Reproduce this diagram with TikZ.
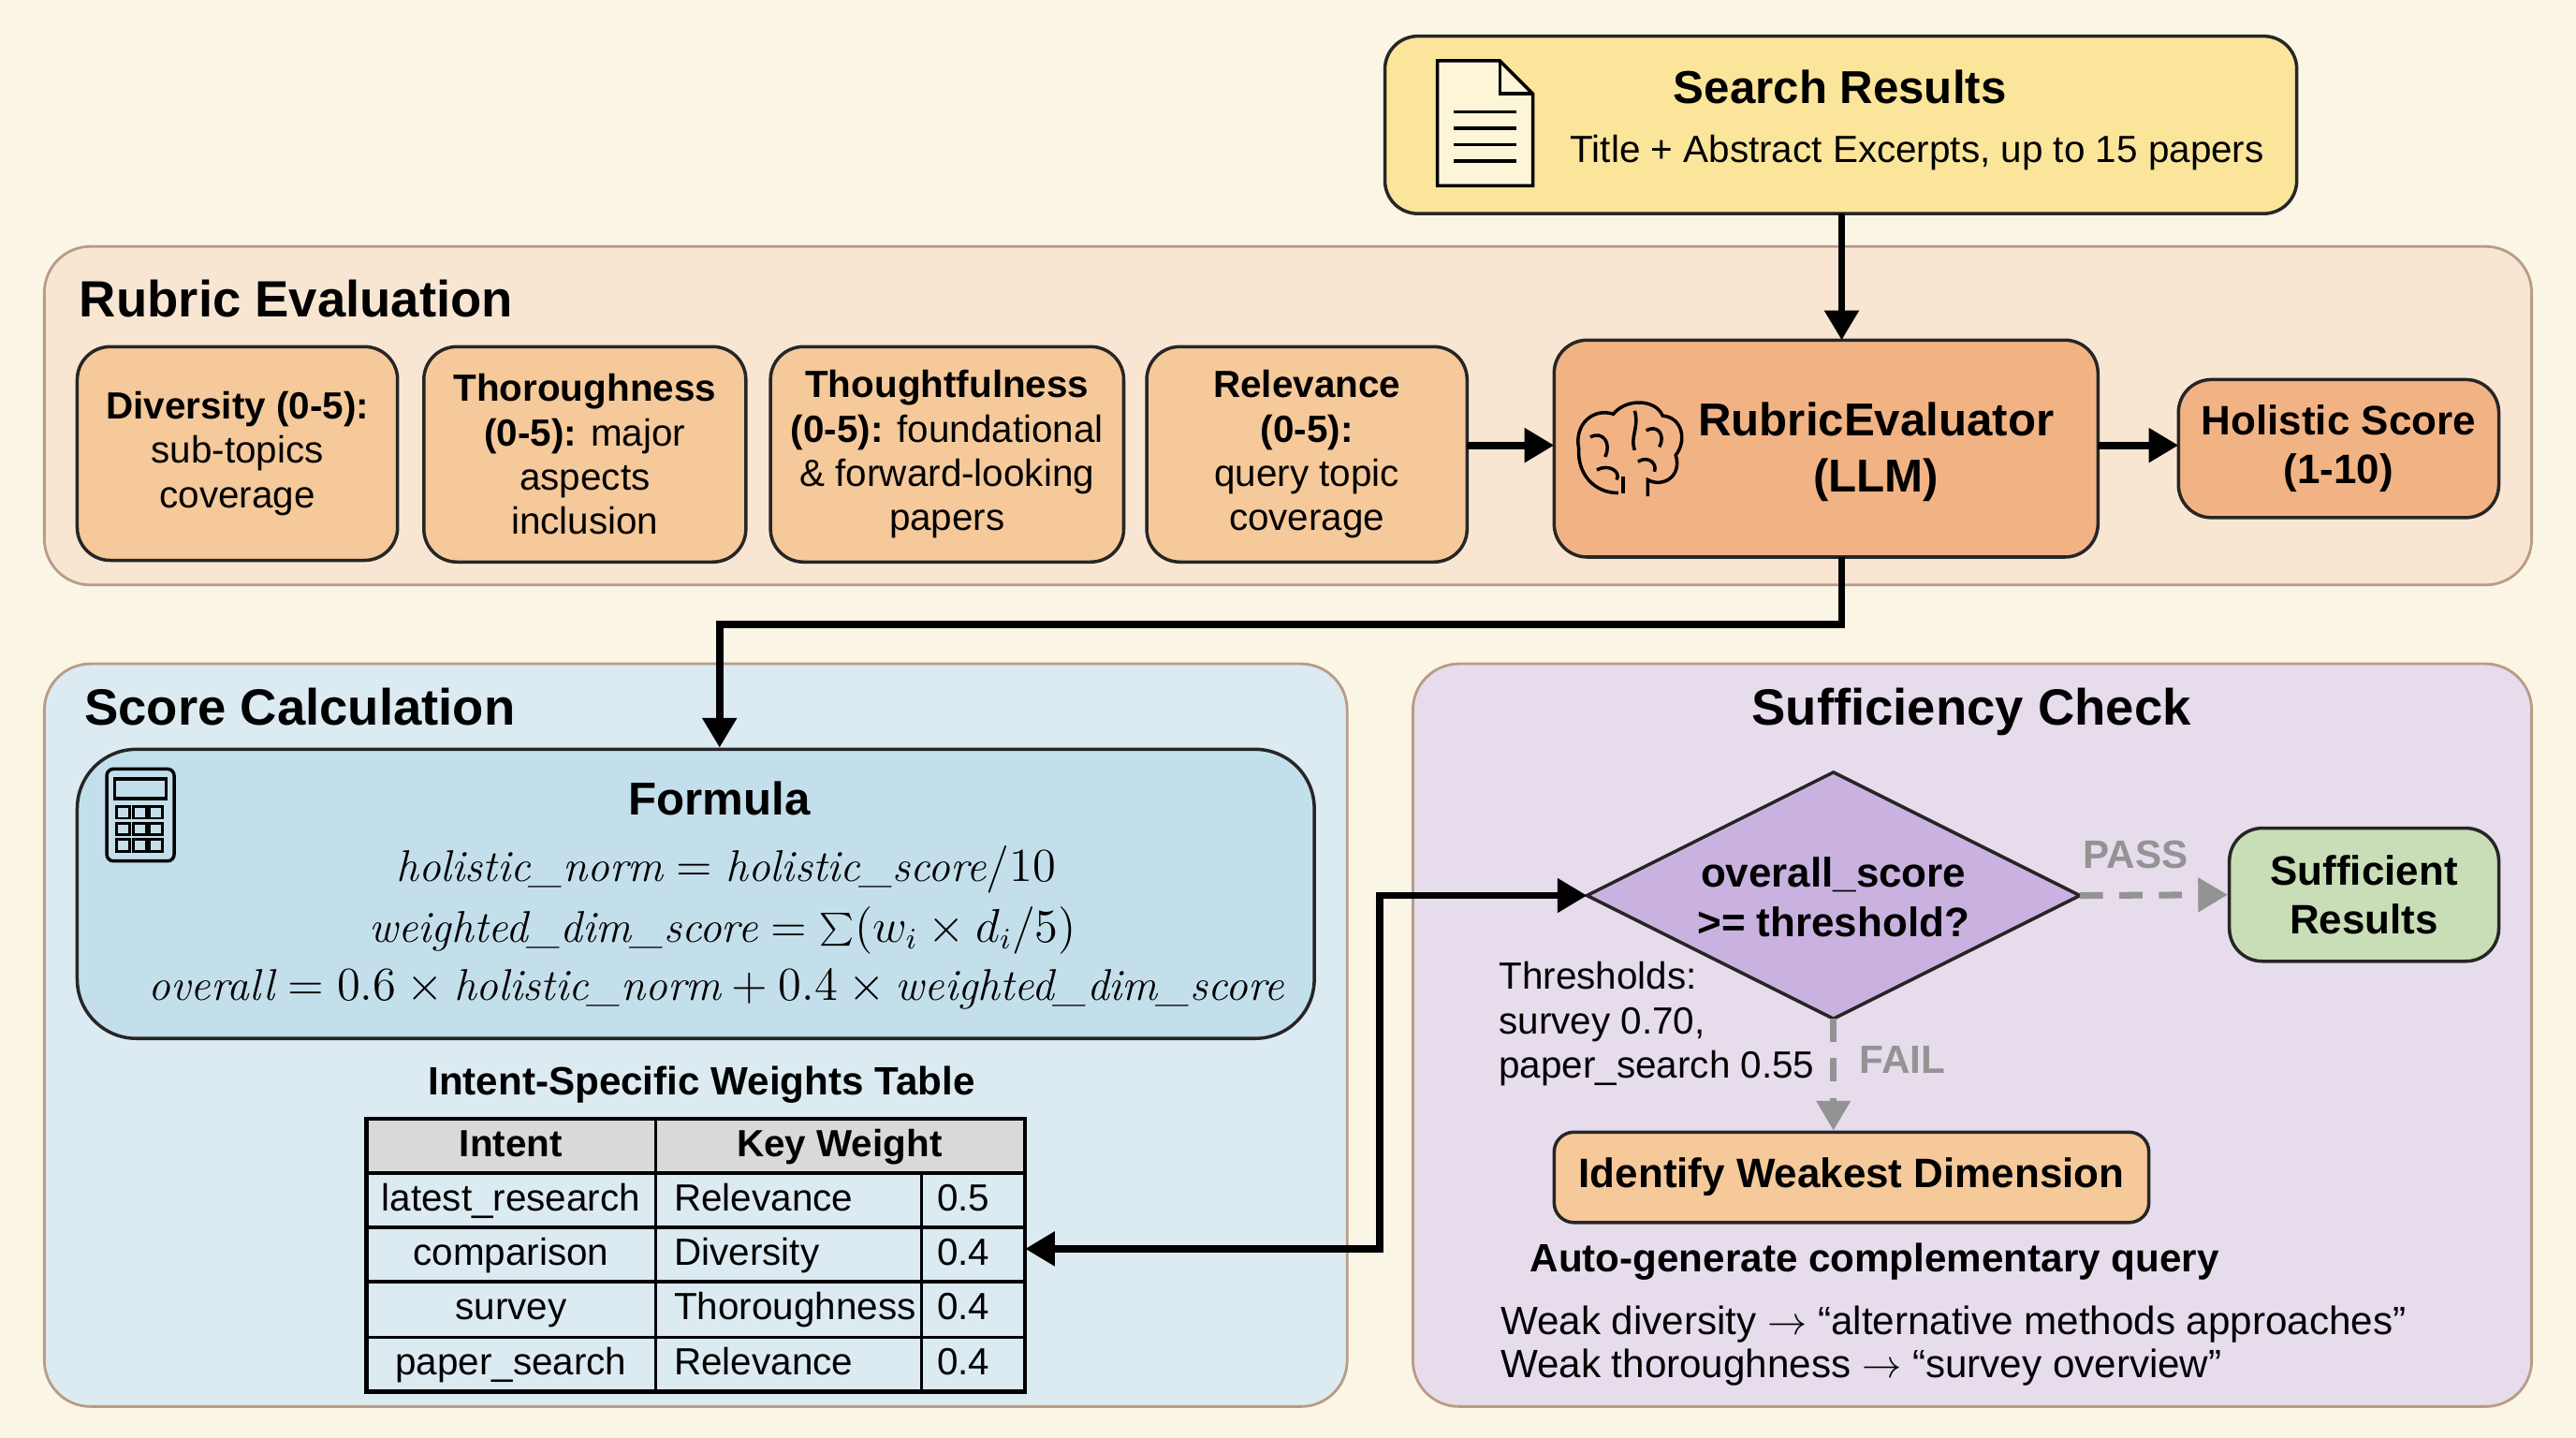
\documentclass[tikz,border=0pt]{standalone}
\usepackage{fontspec}
\setmainfont{Liberation Sans}
\newfontfamily\lmr{Latin Modern Roman}
\usetikzlibrary{arrows.meta,shapes.geometric,calc}
\definecolor{bg}{HTML}{FBF5E6}
\definecolor{yel}{HTML}{FBE59A}
\definecolor{peachp}{HTML}{F8E6D3}
\definecolor{peachb}{HTML}{F5C99A}
\definecolor{orng}{HTML}{F2B384}
\definecolor{bluep}{HTML}{DCEAF1}
\definecolor{blueb}{HTML}{C4DFEC}
\definecolor{lavp}{HTML}{E6DCEC}
\definecolor{lavd}{HTML}{C9B2DF}
\definecolor{grn}{HTML}{C9DEB7}
\definecolor{pborder}{HTML}{B89C86}
\begin{document}
\begin{tikzpicture}[x=0.1755mm,y=-0.1755mm,
  panel/.style={draw=pborder,line width=0.8pt,rounded corners=14pt},
  box/.style={draw=black!85,line width=1pt,rounded corners=10pt,align=center,font=\fontsize{11.5}{13.5}\selectfont,inner sep=2pt},
  ptitle/.style={font=\fontsize{15.5}{18}\selectfont\bfseries,anchor=west,inner sep=0},
  cell/.style={font=\fontsize{11.5}{13}\selectfont,text height=1.6ex,text depth=0.4ex},
  arr/.style={-{Triangle[length=9pt,width=10pt]},line width=2.2pt},
  garr/.style={-{Triangle[length=9pt,width=10pt]},line width=2pt,draw=gray!85,dash pattern=on 7pt off 5pt}]
\fill[bg] (0,0) rectangle (1568,875);
\useasboundingbox (0,0) rectangle (1568,875);
% panels
\draw[panel,fill=peachp] (27,150) rectangle (1541,356);
\draw[panel,fill=bluep] (27,404) rectangle (820,856);
\draw[panel,fill=lavp] (860,404) rectangle (1541,856);
\node[ptitle] (trub) at (48,182) {Rubric Evaluation};
\node[ptitle] (tscore) at (51,430) {Score Calculation};
\node[font=\fontsize{15.5}{18}\selectfont\bfseries] (tsuf) at (1200,433) {Sufficiency Check};
% search results
\node[box,fill=yel,minimum width=555*0.1755mm,minimum height=108*0.1755mm] (search) at (1120.5,76) {};
\node[font=\fontsize{14}{16}\selectfont\bfseries] (st) at (1120,53) {Search Results};
\node[font=\fontsize{11.5}{13}\selectfont] (ss) at (1167,93) {Title + Abstract Excerpts, up to 15 papers};
\draw[line width=1pt,fill=white!60!yel] (875,37) -- (913,37) -- (933,57) -- (933,113) -- (875,113) -- cycle;
\draw[line width=1pt] (913,37) -- (913,57) -- (933,57);
\foreach \yy in {68,78,88,98} \draw[line width=1pt] (885,\yy) -- (923,\yy);
% rubric boxes
\node[box,fill=peachb,minimum width=195*0.1755mm,minimum height=130*0.1755mm] (div) at (144.5,276) {\textbf{Diversity (0-5):}\\sub-topics\\coverage};
\node[box,fill=peachb,minimum width=196*0.1755mm,minimum height=131*0.1755mm] (tho) at (356,276.5) {\textbf{Thoroughness}\\\textbf{(0-5):} major\\aspects\\inclusion};
\node[box,fill=peachb,minimum width=215*0.1755mm,minimum height=131*0.1755mm] (thf) at (576.5,276.5) {\textbf{Thoughtfulness}\\\textbf{(0-5):} foundational\\\& forward-looking\\papers};
\node[box,fill=peachb,minimum width=195*0.1755mm,minimum height=131*0.1755mm] (rel) at (795.5,276.5) {\textbf{Relevance}\\\textbf{(0-5):}\\query topic\\coverage};
\node[box,fill=orng,minimum width=331*0.1755mm,minimum height=132*0.1755mm] (re) at (1111.5,273) {};
\node[font=\fontsize{14}{17}\selectfont\bfseries,align=center] (ret) at (1142,275) {RubricEvaluator\\(LLM)};
\node[box,fill=orng,minimum width=195*0.1755mm,minimum height=84*0.1755mm,font=\fontsize{12.5}{15}\selectfont\bfseries] (hol) at (1423.5,273) {Holistic Score\\(1-10)};
% brain icon
\begin{scope}[line width=1pt]
\draw (985,300) .. controls (970,300) and (960,288) .. (961,273) .. controls (958,258) and (970,248) .. (982,252) .. controls (990,242) and (1008,243) .. (1012,253) .. controls (1024,254) and (1027,268) .. (1020,277) .. controls (1024,290) and (1012,297) .. (1003,292) -- (1003,302);
\draw (988,300) -- (988,290);
\draw (995,250) .. controls (998,260) and (992,266) .. (995,274);
\draw (968,266) .. controls (976,262) and (981,270) .. (977,278);
\draw (1002,262) .. controls (1009,258) and (1014,265) .. (1010,272);
\draw (972,286) .. controls (979,282) and (987,287) .. (984,292);
\draw (997,281) .. controls (1003,277) and (1009,282) .. (1007,287);
\end{scope}
% score calc
\node[box,fill=blueb,minimum width=753*0.1755mm,minimum height=176*0.1755mm,rounded corners=18pt] (form) at (423.5,544) {};
\node[font=\fontsize{14}{16}\selectfont\bfseries] (ft) at (438,486) {Formula};
\begin{scope}[every node/.style={font=\lmr\fontsize{13.5}{16}\selectfont}]
\node (f1) at (442,529) {$\textit{holistic\_norm} = \textit{holistic\_score}/10$};
\node (f2) at (440,566) {$\textit{weighted\_dim\_score} = \sum(w_i \times d_i/5)$};
\node (f3) at (436,602) {$\textit{overall} = 0.6 \times \textit{holistic\_norm} + 0.4 \times \textit{weighted\_dim\_score}$};
\end{scope}
\draw[line width=1pt,rounded corners=2pt] (65,468) rectangle (106,524);
\draw[line width=0.9pt] (70,474) rectangle (101,486);
\foreach \cx in {71,81,91} \foreach \cy in {491,501,511} \draw[line width=0.8pt] (\cx,\cy) rectangle ++(8,7);
\node[font=\fontsize{12}{14}\selectfont\bfseries] (tt) at (427,660) {Intent-Specific Weights Table};
% table
\fill[gray!30] (223,681) rectangle (624,714);
\draw[line width=1.2pt] (223,681) rectangle (624,847);
\foreach \yy in {714,747,780,814} \draw[line width=1pt] (223,\yy) -- (624,\yy);
\draw[line width=1pt] (399,681) -- (399,847);
\draw[line width=1pt] (561,714) -- (561,847);
\coordinate (tab) at (624,760);
\node[cell,font=\fontsize{11.5}{13}\selectfont\bfseries] at (311,697.5) {Intent};
\node[cell,font=\fontsize{11.5}{13}\selectfont\bfseries] at (511,697.5) {Key Weight};
\foreach \y/\a/\b/\c in {730.5/latest\_research/Relevance/0.5, 763.5/comparison/Diversity/0.4, 797/survey/Thoroughness/0.4, 830.5/paper\_search/Relevance/0.4}{
 \node[cell] at (311,\y) {\a};
 \node[cell,anchor=west,inner sep=0] at (410,\y) {\b};
 \node[cell,anchor=west,inner sep=0] at (570,\y) {\c};}
% sufficiency
\draw[line width=1pt,draw=black!85,fill=lavd] (966,545) -- (1116,470) -- (1266,545) -- (1116,620) -- cycle;
\coordinate (diaw) at (966,545);
\coordinate (diae) at (1266,545);
\coordinate (dias) at (1116,620);
\node[align=center,font=\fontsize{12.5}{15}\selectfont\bfseries] (dia) at (1116,546) {overall\_score\\>= threshold?};
\node[box,fill=grn,minimum width=164*0.1755mm,minimum height=81*0.1755mm,font=\fontsize{12.5}{15}\selectfont\bfseries] (suf) at (1439,544.5) {Sufficient\\Results};
\node[box,fill=peachb,minimum width=362*0.1755mm,minimum height=55*0.1755mm,rounded corners=6pt,font=\fontsize{12.5}{15}\selectfont\bfseries] (weak) at (1127,716.5) {Identify Weakest Dimension};
\node[anchor=north west,align=left,font=\fontsize{11.5}{13.5}\selectfont,inner sep=0] (thr) at (912,585) {Thresholds:\\survey 0.70,\\paper\_search 0.55};
\node[font=\fontsize{12}{14}\selectfont\bfseries] (auto) at (1141,768) {Auto-generate complementary query};
\node[anchor=west,align=left,font=\fontsize{12}{14}\selectfont,inner sep=0] (wl) at (913,819) {Weak diversity $\rightarrow$ “alternative methods approaches”\\[-1pt]Weak thoroughness $\rightarrow$ “survey overview”};
% arrows
\draw[arr] (1121,130) -- (1121,207);
\draw[arr] (893,271) -- (946,271);
\draw[arr] (1277,271) -- (1326,271);
\draw[arr] (1121,339) -- (1121,380) -- (438,380) -- (438,455);
\draw[arr,{Triangle[length=9pt,width=10pt]}-{Triangle[length=9pt,width=10pt]}] (tab) -- (840,760) -- (840,545) -- (diaw);
\draw[garr] (diae) -- (suf.west);
\draw[garr] (dias) -- (weak.north -| dias);
\node[font=\fontsize{12}{14}\selectfont\bfseries,text=gray!85] (pass) at (1300,520) {PASS};
\node[font=\fontsize{12}{14}\selectfont\bfseries,text=gray!85] (fail) at (1158,645) {FAIL};
\end{tikzpicture}
\end{document}
